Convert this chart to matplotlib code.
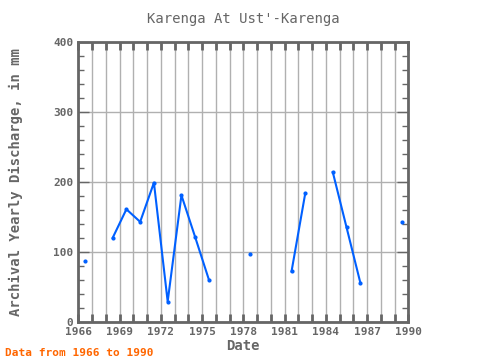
import numpy as np
import matplotlib
matplotlib.use('Agg')
import matplotlib.pyplot as plt
from matplotlib.ticker import MultipleLocator

# yearly discharge (mm), NaN = no data
years = np.arange(1966, 1990)
discharge = [87, np.nan, 120, 161, 143, 199, 29, 181, 121, 60,
             np.nan, np.nan, 97, np.nan, np.nan, 72, 184, np.nan,
             214, 135, 56, np.nan, np.nan, 143]
xticks = [1966, 1969, 1972, 1975, 1978, 1981, 1984, 1987, 1990]
yticks = [0, 100, 200, 300, 400]

plt.rcParams['font.family'] = ['DejaVu Sans Mono']
gray = '#666666'
blue = '#0060ff'

fig = plt.figure(figsize=(4.8, 3.6), dpi=100)
ax = fig.add_axes([0.163, 0.106, 0.688, 0.777])

x = years + 0.5
ax.plot(x, discharge, color=blue, lw=1.5, marker='o', ms=2, zorder=3)

ax.set_xlim(1966, 1990)
ax.set_ylim(0, 400)
ax.set_xticks(xticks)
ax.set_xticks(np.arange(1966, 1991), minor=True)
ax.set_yticks(yticks)
ax.yaxis.set_minor_locator(MultipleLocator(20))

ax.grid(True, which='major', axis='y', color='#b0b0b0', lw=1)
ax.grid(True, which='both', axis='x', color='#b0b0b0', lw=1)

for s in ax.spines.values():
    s.set_color(gray)
    s.set_linewidth(2)

ax.tick_params(which='both', direction='in', color=gray, top=True, right=True,
               labelsize=8, labelcolor=gray)
ax.tick_params(which='major', length=8, width=1)
ax.tick_params(which='minor', length=4, width=1)
ax.tick_params(axis='x', which='both', length=6, width=2)
for lab in ax.get_xticklabels() + ax.get_yticklabels():
    lab.set_fontweight('bold')

ax.set_title("Karenga At Ust'-Karenga", fontsize=10, color=gray, pad=14)
ax.set_xlabel('Date', fontsize=10, color=gray, fontweight='bold', labelpad=2)
ax.set_ylabel('Archival Yearly Discharge, in mm', fontsize=10, color=gray,
              fontweight='bold', labelpad=22)
fig.text(0.01, 0.012, 'Data from 1966 to 1990', color='#ff6600', fontsize=8,
         fontweight='bold')

fig.savefig('out.png', dpi=100)
